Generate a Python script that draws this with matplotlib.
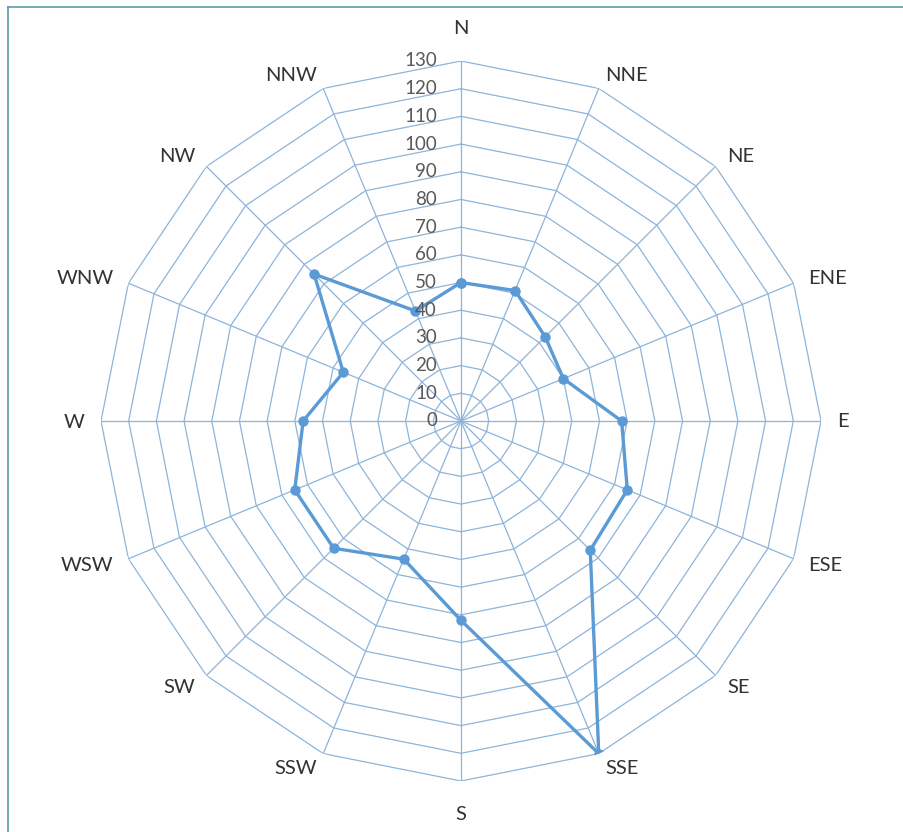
import numpy as np
import matplotlib
matplotlib.use("Agg")
import matplotlib.pyplot as plt
from matplotlib import transforms
from matplotlib.lines import Line2D

directions = ["N", "NNE", "NE", "ENE", "E", "ESE", "SE", "SSE",
              "S", "SSW", "SW", "WSW", "W", "WNW", "NW", "NNW"]
values = [50, 51, 43, 40, 58, 65, 66, 130, 72, 54, 65, 65, 57, 46, 75, 43]
rticks = list(range(0, 131, 10))

W, H = 904, 832
fig = plt.figure(figsize=(W / 100, H / 100), dpi=100)
fig.patch.set_facecolor("white")

cx, cy, R = 461, 421, 360
ax = fig.add_axes([(cx - R) / W, (H - cy - R) / H, 2 * R / W, 2 * R / H],
                  projection="polar")
ax.set_theta_zero_location("N")
ax.set_theta_direction(-1)
ax.set_ylim(0, 130)
ax.grid(False)
ax.set_xticks([])
ax.set_yticks([])
ax.spines["polar"].set_visible(False)
ax.patch.set_alpha(0)

n = len(directions)
theta = np.arange(n) * 2 * np.pi / n
grid_c = "#8DB4DA"

# polygon rings
th_closed = np.append(theta, theta[0])
for r in rticks[1:]:
    ax.plot(th_closed, [r] * (n + 1), color=grid_c, lw=0.9, zorder=1)
# spokes
for t in theta:
    ax.plot([t, t], [0, 130], color=grid_c, lw=0.9, zorder=1)

# data
vals_closed = values + values[:1]
ax.plot(th_closed, vals_closed, color="#5B9BD5", lw=2.4, marker="o",
        markersize=6.5, zorder=3, solid_joinstyle="round")

# radial labels
off = transforms.offset_copy(ax.transData, fig=fig, x=-24, y=0, units="dots")
for r in rticks:
    ax.text(0, r, str(r), transform=off, ha="right", va="center",
            fontsize=13.5, color="#595959", family="Lato", zorder=4)

# direction labels, placed next to the outer ring tips
for t, d in zip(theta, directions):
    s, c = np.sin(t), np.cos(t)
    if abs(s) < 0.01:
        ha, dx, dy = "center", 0, 33 * np.sign(c)
    else:
        ha = "left" if s > 0 else "right"
        dx = 16 * s
        dy = 15 * c
    tr = transforms.offset_copy(ax.transData, fig=fig, x=dx, y=dy - 1,
                                units="dots")
    ax.text(t, 130, d, transform=tr, ha=ha, va="center", fontsize=14.5,
            color="#333333", family="Lato")

# frame (top and left edges visible)
fc = "#5E9CA6"
fig.add_artist(Line2D([8 / W, 8 / W], [0, 1 - 7 / H], color=fc, lw=1.2,
                      transform=fig.transFigure))
fig.add_artist(Line2D([8 / W, 1], [1 - 7 / H, 1 - 7 / H], color=fc, lw=1.2,
                      transform=fig.transFigure))

fig.savefig("out.png", dpi=100, facecolor="white")
